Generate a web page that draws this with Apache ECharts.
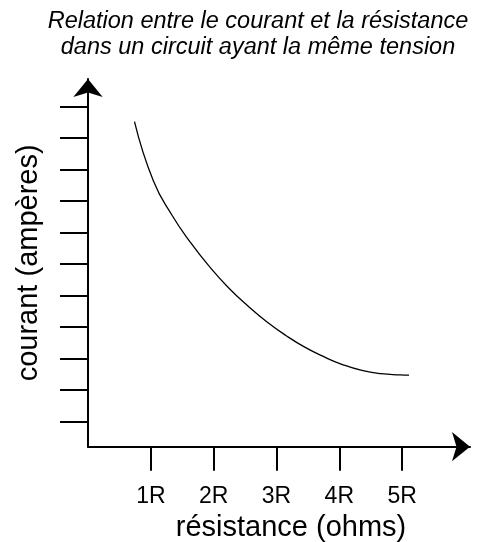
<!DOCTYPE html>
<html>
<head>
<meta charset="utf-8">
<script src="https://cdn.jsdelivr.net/npm/echarts@6/dist/echarts.min.js"></script>
<style>
  html, body { margin: 0; padding: 0; background: #fff; }
  #chart { width: 477px; height: 542px; }
</style>
</head>
<body>
<div id="chart"></div>
<script>
// Resistance positions (multiples of R) and the matching current (arbitrary units)
const resistance = [0.74, 1.04, 1.34, 1.64, 1.94, 2.24, 2.55, 2.85, 3.15, 3.45, 3.76, 4.06, 4.36, 4.66, 4.97, 5.11];
const current    = [10.52, 8.64, 7.54, 6.66, 5.90, 5.24, 4.66, 4.16, 3.73, 3.36, 3.05, 2.80, 2.62, 2.52, 2.48, 2.47];

// Tick positions and labels
const xTickValues = [1, 2, 3, 4, 5];
const xTickLabels = ['1R', '2R', '3R', '4R', '5R'];
const yTickValues = [1, 2, 3, 4, 5, 6, 7, 8, 9, 10, 11];

const titleLines = ['Relation entre le courant et la résistance', 'dans un circuit ayant la même tension'];
const xName = 'résistance (ohms)';
const yName = 'courant (ampères)';

const FONT = 'Liberation Sans, Arial, Helvetica, sans-serif';
const chart = echarts.init(document.getElementById('chart'), null, { renderer: 'canvas' });

const points = resistance.map((r, i) => [r, current[i]]);

chart.setOption({
  animation: false,
  backgroundColor: '#ffffff',
  title: {
    text: titleLines.join('\n'),
    left: 258,
    top: 8,
    padding: 0,
    textAlign: 'center',
    textStyle: {
      fontFamily: FONT,
      fontStyle: 'italic',
      fontWeight: 'normal',
      fontSize: 23.5,
      lineHeight: 26,
      color: '#000',
      align: 'center'
    }
  },
  grid: { left: 88, top: 79, width: 382, height: 367.7, containLabel: false, outerBoundsMode: 'none' },
  xAxis: {
    type: 'value',
    min: 0,
    max: 6.08,
    name: xName,
    nameLocation: 'middle',
    nameGap: 67,
    nameTextStyle: { fontFamily: FONT, fontSize: 29, color: '#000', padding: [0, 0, 0, 24] },
    splitLine: { show: false },
    axisLine: {
      show: true,
      symbol: ['none', 'arrow'],
      symbolSize: [22, 18],
      lineStyle: { color: '#000', width: 2 }
    },
    axisTick: {
      show: true,
      inside: false,
      length: 24,
      customValues: xTickValues,
      lineStyle: { color: '#000', width: 2 }
    },
    axisLabel: {
      show: true,
      margin: 38,
      customValues: xTickValues,
      fontFamily: FONT,
      fontSize: 23,
      color: '#000',
      formatter: v => xTickLabels[xTickValues.indexOf(Math.round(v))] || ''
    }
  },
  yAxis: {
    type: 'value',
    min: 0.2,
    max: 11.873,
    name: yName,
    nameLocation: 'middle',
    nameGap: 45,
    nameRotate: 90,
    nameTextStyle: { fontFamily: FONT, fontSize: 29, color: '#000' },
    splitLine: { show: false },
    axisLine: {
      show: true,
      symbol: ['none', 'arrow'],
      symbolSize: [22, 18],
      lineStyle: { color: '#000', width: 2 }
    },
    axisTick: {
      show: true,
      inside: false,
      length: 28,
      customValues: yTickValues,
      lineStyle: { color: '#000', width: 2 }
    },
    axisLabel: { show: false }
  },
  series: [{
    type: 'line',
    data: points,
    smooth: true,
    showSymbol: false,
    symbol: 'none',
    lineStyle: { color: '#000', width: 1.3 }
  }]
});
</script>
</body>
</html>
